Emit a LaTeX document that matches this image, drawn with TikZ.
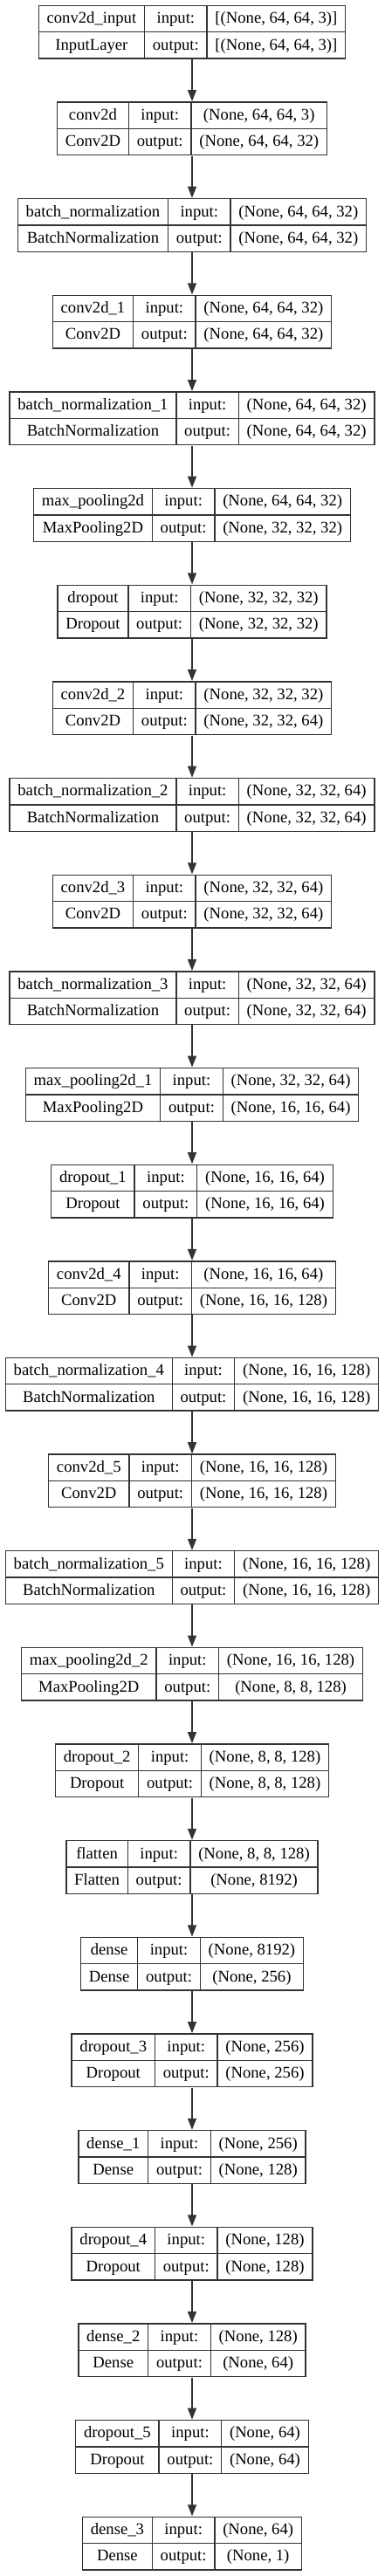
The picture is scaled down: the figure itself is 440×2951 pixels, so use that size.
\documentclass[tikz,border=0pt]{standalone}
\usepackage{fontspec}
\setmainfont{Liberation Serif}
\usepackage{colortbl}
\usetikzlibrary{arrows.meta}
\definecolor{edgegray}{gray}{0.2}
\newcommand{\rowstrut}{\rule[-7pt]{0pt}{21.75pt}}
\newcommand{\layerbox}[4]{%
  \setlength{\tabcolsep}{6.5pt}\setlength{\arrayrulewidth}{1pt}\arrayrulecolor{edgegray}%
  \begin{tabular}{|c|c|c|}\hline
  \rowstrut #1 & input: & #3\\\hline
  \rowstrut #2 & output: & #4\\\hline
  \end{tabular}}
\tikzset{
  layer/.style={inner sep=0pt, font=\fontsize{14}{16}\selectfont},
  flow/.style={draw=edgegray, line width=1pt, -{Triangle[length=9.75pt,width=7.5pt]}}
}

\begin{document}
\begin{tikzpicture}[x=0.75pt,y=-0.75pt]
	\useasboundingbox (0,0) rectangle (440,2951);
		\path (220,36.7) node(cin)[layer]{\layerbox{conv2d\_input}{InputLayer}{[(None, 64, 64, 3)]}{[(None, 64, 64, 3)]}}
		(220,147.35) node(c0)[layer]{\layerbox{conv2d}{Conv2D}{(None, 64, 64, 3)}{(None, 64, 64, 32)}}
		(220,258.0) node(b0)[layer]{\layerbox{batch\_normalization}{BatchNormalization}{(None, 64, 64, 32)}{(None, 64, 64, 32)}}
		(220,368.65) node(c1)[layer]{\layerbox{conv2d\_1}{Conv2D}{(None, 64, 64, 32)}{(None, 64, 64, 32)}}
		(220,479.3) node(b1)[layer]{\layerbox{batch\_normalization\_1}{BatchNormalization}{(None, 64, 64, 32)}{(None, 64, 64, 32)}}
		(220,589.95) node(p0)[layer]{\layerbox{max\_pooling2d}{MaxPooling2D}{(None, 64, 64, 32)}{(None, 32, 32, 32)}}
		(220,700.6) node(d0)[layer]{\layerbox{dropout}{Dropout}{(None, 32, 32, 32)}{(None, 32, 32, 32)}}
		(220,811.25) node(c2)[layer]{\layerbox{conv2d\_2}{Conv2D}{(None, 32, 32, 32)}{(None, 32, 32, 64)}}
		(220,921.9) node(b2)[layer]{\layerbox{batch\_normalization\_2}{BatchNormalization}{(None, 32, 32, 64)}{(None, 32, 32, 64)}}
		(220,1032.55) node(c3)[layer]{\layerbox{conv2d\_3}{Conv2D}{(None, 32, 32, 64)}{(None, 32, 32, 64)}}
		(220,1143.2) node(b3)[layer]{\layerbox{batch\_normalization\_3}{BatchNormalization}{(None, 32, 32, 64)}{(None, 32, 32, 64)}}
		(220,1253.85) node(p1)[layer]{\layerbox{max\_pooling2d\_1}{MaxPooling2D}{(None, 32, 32, 64)}{(None, 16, 16, 64)}}
		(220,1364.5) node(d1)[layer]{\layerbox{dropout\_1}{Dropout}{(None, 16, 16, 64)}{(None, 16, 16, 64)}}
		(220,1475.15) node(c4)[layer]{\layerbox{conv2d\_4}{Conv2D}{(None, 16, 16, 64)}{(None, 16, 16, 128)}}
		(220,1585.8) node(b4)[layer]{\layerbox{batch\_normalization\_4}{BatchNormalization}{(None, 16, 16, 128)}{(None, 16, 16, 128)}}
		(220,1696.45) node(c5)[layer]{\layerbox{conv2d\_5}{Conv2D}{(None, 16, 16, 128)}{(None, 16, 16, 128)}}
		(220,1807.1) node(b5)[layer]{\layerbox{batch\_normalization\_5}{BatchNormalization}{(None, 16, 16, 128)}{(None, 16, 16, 128)}}
		(220,1917.75) node(p2)[layer]{\layerbox{max\_pooling2d\_2}{MaxPooling2D}{(None, 16, 16, 128)}{(None, 8, 8, 128)}}
		(220,2028.4) node(d2)[layer]{\layerbox{dropout\_2}{Dropout}{(None, 8, 8, 128)}{(None, 8, 8, 128)}}
		(220,2139.05) node(fl)[layer]{\layerbox{flatten}{Flatten}{(None, 8, 8, 128)}{(None, 8192)}}
		(220,2249.7) node(de0)[layer]{\layerbox{dense}{Dense}{(None, 8192)}{(None, 256)}}
		(220,2360.35) node(d3)[layer]{\layerbox{dropout\_3}{Dropout}{(None, 256)}{(None, 256)}}
		(220,2471.0) node(de1)[layer]{\layerbox{dense\_1}{Dense}{(None, 256)}{(None, 128)}}
		(220,2581.65) node(d4)[layer]{\layerbox{dropout\_4}{Dropout}{(None, 128)}{(None, 128)}}
		(220,2692.3) node(de2)[layer]{\layerbox{dense\_2}{Dense}{(None, 128)}{(None, 64)}}
		(220,2802.95) node(d5)[layer]{\layerbox{dropout\_5}{Dropout}{(None, 64)}{(None, 64)}}
		(220,2913.6) node(de3)[layer]{\layerbox{dense\_3}{Dense}{(None, 64)}{(None, 1)}};
		\draw[flow] (cin.south) -- (c0.north);
		\draw[flow] (c0.south) -- (b0.north);
		\draw[flow] (b0.south) -- (c1.north);
		\draw[flow] (c1.south) -- (b1.north);
		\draw[flow] (b1.south) -- (p0.north);
		\draw[flow] (p0.south) -- (d0.north);
		\draw[flow] (d0.south) -- (c2.north);
		\draw[flow] (c2.south) -- (b2.north);
		\draw[flow] (b2.south) -- (c3.north);
		\draw[flow] (c3.south) -- (b3.north);
		\draw[flow] (b3.south) -- (p1.north);
		\draw[flow] (p1.south) -- (d1.north);
		\draw[flow] (d1.south) -- (c4.north);
		\draw[flow] (c4.south) -- (b4.north);
		\draw[flow] (b4.south) -- (c5.north);
		\draw[flow] (c5.south) -- (b5.north);
		\draw[flow] (b5.south) -- (p2.north);
		\draw[flow] (p2.south) -- (d2.north);
		\draw[flow] (d2.south) -- (fl.north);
		\draw[flow] (fl.south) -- (de0.north);
		\draw[flow] (de0.south) -- (d3.north);
		\draw[flow] (d3.south) -- (de1.north);
		\draw[flow] (de1.south) -- (d4.north);
		\draw[flow] (d4.south) -- (de2.north);
		\draw[flow] (de2.south) -- (d5.north);
		\draw[flow] (d5.south) -- (de3.north);
	\end{tikzpicture}
\end{document}
